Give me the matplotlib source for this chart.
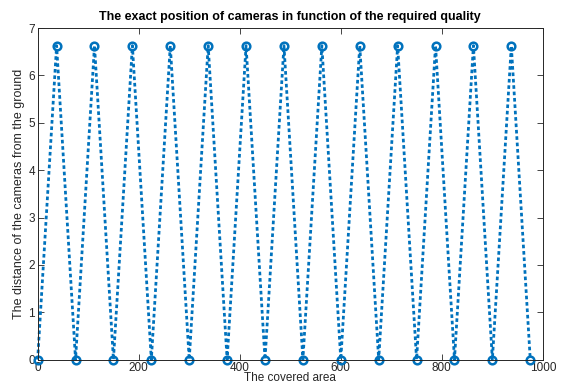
import matplotlib.pyplot as plt

plt.rcParams['font.family'] = ['Liberation Sans', 'DejaVu Sans']

# camera positions along the covered area and their height
area = [0, 37.5, 75, 112.5, 150, 187.5, 225, 262.5, 300, 337.5, 375, 412.5, 450,
        487.5, 525, 562.5, 600, 637.5, 675, 712.5, 750, 787.5, 825, 862.5, 900,
        937.5, 975]
height = [0, 6.63, 0, 6.63, 0, 6.63, 0, 6.63, 0, 6.63, 0, 6.63, 0,
          6.63, 0, 6.63, 0, 6.63, 0, 6.63, 0, 6.63, 0, 6.63, 0,
          6.63, 0]

xticks = [0, 200, 400, 600, 800, 1000]
yticks = [0, 1, 2, 3, 4, 5, 6, 7]

blue = '#0072BD'
grey = '#262626'

fig = plt.figure(figsize=(5.62, 3.85), dpi=100)
ax = fig.add_axes([0.067, 0.066, 0.899, 0.861])

ax.plot(area, height, color=blue, linewidth=2.0, linestyle=(0, (1.3, 1.0)),
        marker='o', markersize=5.5, markerfacecolor='none',
        markeredgewidth=1.8, clip_on=False)

ax.set_xlim(0, 1000)
ax.set_ylim(0, 7)
ax.set_xticks(xticks)
ax.set_yticks(yticks)
ax.tick_params(direction='in', top=True, right=True, labelsize=8.5,
               colors=grey, length=4, width=0.6, labelcolor=grey, pad=2)
for s in ax.spines.values():
    s.set_color(grey)
    s.set_linewidth(0.7)

ax.set_title('The exact position of cameras in function of the required quality',
             fontsize=9, fontweight='bold', pad=6)
ax.set_xlabel('The covered area', fontsize=8.5, color=grey, labelpad=-2)
ax.set_ylabel('The distance of the cameras from the ground', fontsize=9,
              color=grey, labelpad=2)

fig.savefig('out.png', dpi=100)
